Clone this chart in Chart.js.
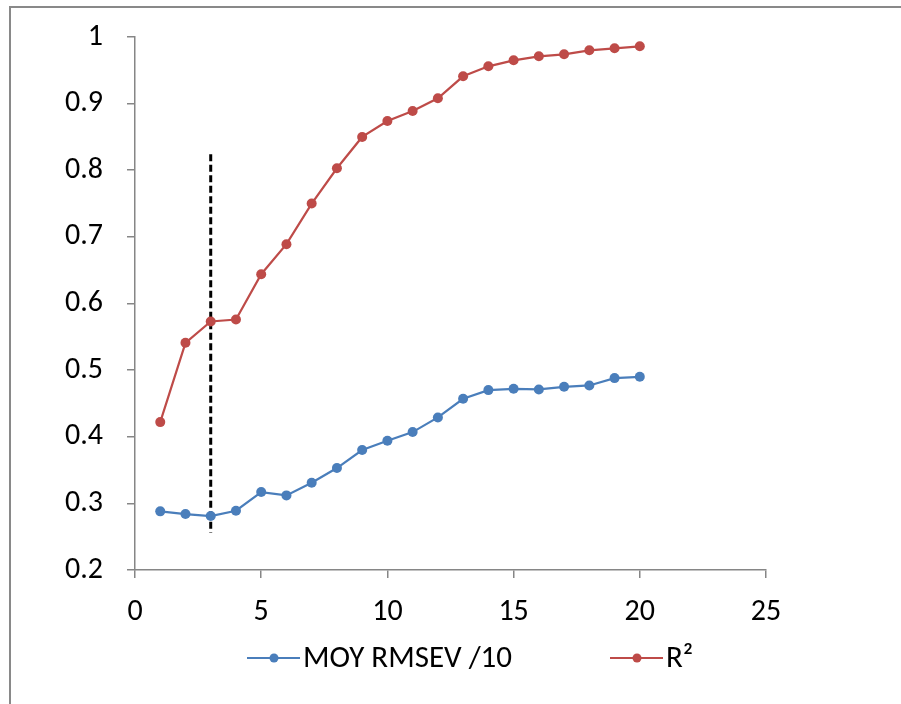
<!DOCTYPE html>
<html>
<head>
<meta charset="utf-8">
<script src="https://cdn.jsdelivr.net/npm/chart.js@4/dist/chart.umd.min.js"></script>
<style>
  html, body { margin: 0; padding: 0; background: #fff; }
  #wrap { position: relative; width: 901px; height: 704px; overflow: hidden; }
  #frame { position: absolute; left: 9px; top: 6px; width: 1000px; height: 1000px;
           border-left: 2px solid #898989; border-top: 2px solid #898989; }
  #chart { position: absolute; left: 0; top: 0; }
</style>
</head>
<body>
<div id="wrap">
  <div id="frame"></div>
  <canvas id="chart" width="901" height="704"></canvas>
</div>
<script>
// number of variables
var steps = [1, 2, 3, 4, 5, 6, 7, 8, 9, 10, 11, 12, 13, 14, 15, 16, 17, 18, 19, 20];
var rmsev = [0.288, 0.284, 0.281, 0.289, 0.317, 0.312, 0.331, 0.353, 0.380, 0.394,
             0.407, 0.429, 0.457, 0.470, 0.472, 0.471, 0.475, 0.477, 0.488, 0.490];
var r2 = [0.422, 0.541, 0.573, 0.576, 0.644, 0.689, 0.750, 0.803, 0.850, 0.874,
          0.889, 0.908, 0.941, 0.956, 0.965, 0.971, 0.974, 0.980, 0.983, 0.986];
var cutX = [3, 3];
var cutY = [0.824, 0.256];
var seriesNames = ["MOY RMSEV /10", "R\u00b2"];

var BLUE = "#4a7ebb", RED = "#be4b48", AXIS = "#868686";
var FONT = "Carlito, 'Liberation Sans', Arial, sans-serif";

function pts(xs, ys) {
    return xs.map(function(x, i) { return { x: x, y: ys[i] }; });
}

var legendPlugin = {
    id: "excelLegend",
    afterDraw: function(chart) {
        var c = chart.ctx, y = 658;
        var items = [
            { x: 247, color: BLUE, text: seriesNames[0] },
            { x: 610, color: RED, text: seriesNames[1] }
        ];
        items.forEach(function(it) {
            c.save();
            c.strokeStyle = it.color;
            c.lineWidth = 2;
            c.beginPath();
            c.moveTo(it.x, y);
            c.lineTo(it.x + 53, y);
            c.stroke();
            c.fillStyle = it.color;
            c.beginPath();
            c.arc(it.x + 27, y, 4.5, 0, Math.PI * 2);
            c.fill();
            c.fillStyle = "#000";
            c.font = "31px " + FONT;
            c.textBaseline = "middle";
            c.fillText(it.text, it.x + 56, y + 1);
            c.restore();
        });
    }
};

new Chart(document.getElementById("chart").getContext("2d"), {
    type: "scatter",
    data: {
        datasets: [{
            label: seriesNames[0],
            data: pts(steps, rmsev),
            showLine: true,
            borderColor: BLUE,
            backgroundColor: BLUE,
            borderWidth: 2.2,
            pointRadius: 5,
            pointBorderWidth: 0
        }, {
            label: seriesNames[1],
            data: pts(steps, r2),
            showLine: true,
            borderColor: RED,
            backgroundColor: RED,
            borderWidth: 2.2,
            pointRadius: 5,
            pointBorderWidth: 0
        }, {
            label: "cut",
            data: pts(cutX, cutY),
            showLine: true,
            borderColor: "#000",
            borderWidth: 3,
            borderDash: [7, 3.5],
            pointRadius: 0
        }]
    },
    options: {
        responsive: false,
        animation: false,
        layout: { padding: { left: 0, top: 37, right: 135, bottom: 0 } },
        plugins: { legend: { display: false }, tooltip: { enabled: false } },
        scales: {
            x: {
                type: "linear",
                min: 0, max: 25,
                afterFit: function(s) { s.height = 134; },
                ticks: { stepSize: 5, color: "#000", padding: 16, font: { size: 30, family: FONT } },
                grid: { drawOnChartArea: false, drawTicks: true, tickLength: 8, color: AXIS, lineWidth: 1.5 },
                border: { color: AXIS, width: 1.5 }
            },
            y: {
                min: 0.2, max: 1,
                afterFit: function(s) { s.width = 135; s.paddingTop = 0; s.paddingBottom = 0; },
                ticks: { stepSize: 0.1, color: "#000", padding: 24, font: { size: 30, family: FONT },
                         callback: function(v) { return +v.toFixed(1); } },
                grid: { drawOnChartArea: false, drawTicks: true, tickLength: 8, color: AXIS, lineWidth: 1.5 },
                border: { color: AXIS, width: 1.5 }
            }
        }
    },
    plugins: [legendPlugin]
});
</script>
</body>
</html>
